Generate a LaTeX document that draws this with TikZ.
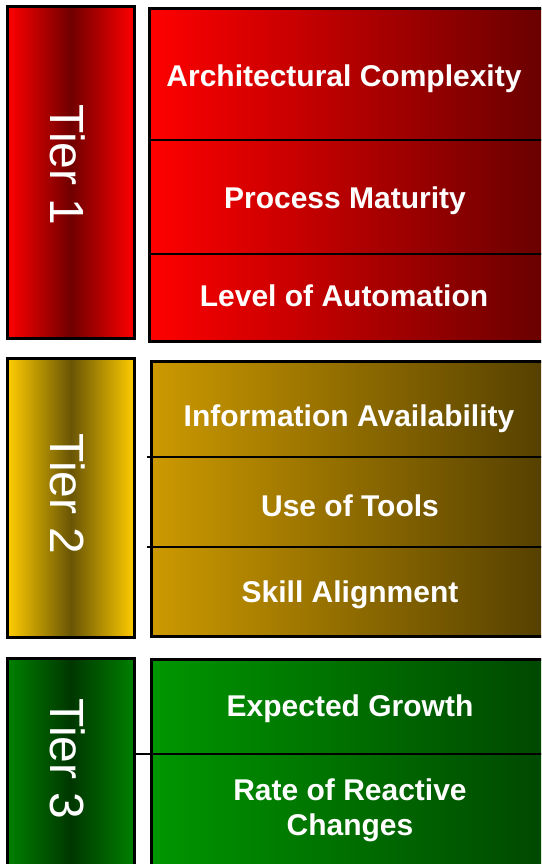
\documentclass[tikz,border=0pt]{standalone}
\usepackage{fontspec}
\setmainfont{Liberation Sans}
\definecolor{tOneEdge}{RGB}{255,0,0}
\definecolor{tOneMid}{RGB}{112,0,0}
\definecolor{rOneL}{RGB}{255,0,0}
\definecolor{rOneR}{RGB}{105,0,0}
\definecolor{tTwoEdge}{RGB}{255,204,0}
\definecolor{tTwoMid}{RGB}{105,85,5}
\definecolor{rTwoL}{RGB}{204,153,0}
\definecolor{rTwoR}{RGB}{85,64,0}
\definecolor{tThreeEdge}{RGB}{0,128,0}
\definecolor{tThreeMid}{RGB}{0,55,0}
\definecolor{rThreeL}{RGB}{0,150,0}
\definecolor{rThreeR}{RGB}{0,72,0}
\tikzset{
  boxframe/.style={draw=black, line width=3pt, rectangle, inner sep=0pt, anchor=north west},
  divline/.style={draw=black, line width=1.4pt},
  itemtext/.style={text=white, font=\bfseries\fontsize{30}{34}\selectfont, anchor=base, inner sep=0pt},
  tiertext/.style={text=white, font=\fontsize{48}{52}\selectfont, rotate=-90, inner sep=0pt},
}
\begin{document}
\begin{tikzpicture}[x=1pt,y=-1pt]
\useasboundingbox (0,0) rectangle (541,864);
\clip (0,0) rectangle (541,864);
\fill[white] (0,0) rectangle (541,864);
% Tier 1
\node[boxframe, minimum width=127pt, minimum height=332pt, left color=tOneEdge, right color=tOneEdge, middle color=tOneMid] (t1) at (6,5) {};
\node[boxframe, minimum width=395pt, minimum height=333pt, left color=rOneL, right color=rOneR] (r1) at (148,7) {};
\coordinate (r1a) at (148,140); \coordinate (r1b) at (543,140);
\coordinate (r1c) at (148,254); \coordinate (r1d) at (543,254);
\draw[divline] (r1a) -- (r1b);
\draw[divline] (r1c) -- (r1d);
\node[tiertext] (t1lab) at (67.5,165) {Tier 1};
\node[itemtext] (i11) at (344,87) {Architectural Complexity};
\node[itemtext] (i12) at (345,208) {Process Maturity};
\node[itemtext] (i13) at (344,306) {Level of Automation};
% Tier 2
\node[boxframe, minimum width=127pt, minimum height=279pt, left color=tTwoEdge, right color=tTwoEdge, middle color=tTwoMid] (t2) at (6,357) {};
\node[boxframe, minimum width=393pt, minimum height=275pt, left color=rTwoL, right color=rTwoR] (r2) at (150,360) {};
\coordinate (r2a) at (147,457); \coordinate (r2b) at (543,457);
\coordinate (r2c) at (147,547); \coordinate (r2d) at (543,547);
\draw[divline] (r2a) -- (r2b);
\draw[divline] (r2c) -- (r2d);
\node[tiertext] (t2lab) at (67.5,494) {Tier 2};
\node[itemtext] (i21) at (349,426) {Information Availability};
\node[itemtext] (i22) at (350,516) {Use of Tools};
\node[itemtext] (i23) at (350,602) {Skill Alignment};
% Tier 3
\node[boxframe, minimum width=127pt, minimum height=212pt, left color=tThreeEdge, right color=tThreeEdge, middle color=tThreeMid] (t3) at (6,657) {};
\node[boxframe, minimum width=393pt, minimum height=212pt, left color=rThreeL, right color=rThreeR] (r3) at (150,658) {};
\coordinate (r3b) at (543,754);
\draw[divline] (t3.east |- r3b) -- (r3b);
\node[tiertext] (t3lab) at (67.5,759) {Tier 3};
\node[itemtext] (i31) at (350,716) {Expected Growth};
\node[itemtext] (i32) at (350,800) {Rate of Reactive};
\node[itemtext] (i33) at (350,835) {Changes};
\end{tikzpicture}
\end{document}
